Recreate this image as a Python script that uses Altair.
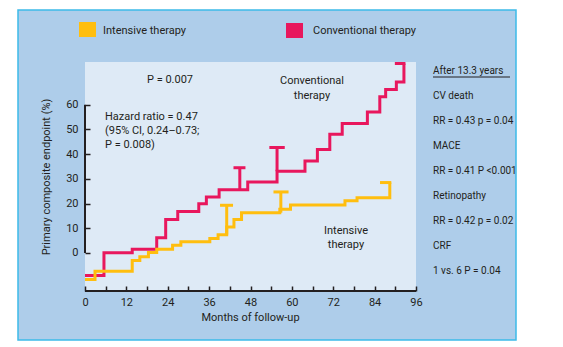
import altair as alt
import pandas as pd

# ---------------- data ----------------
series_names = ["Intensive therapy", "Conventional therapy"]

intensive_months = [0, 2.9, 13.7, 15.9, 18.4, 20.8, 25.4, 27.8, 36.2, 38.6, 41.1, 43.2, 45.4, 56.5, 59.6, 75.4, 78.9, 88.4]
intensive_values = [-10.7, -7.4, -3.1, -1.5, 0.2, 1.5, 3.1, 4.5, 5.9, 7.4, 10.5, 13.5, 16.3, 17.7, 19.4, 21.1, 22.3, 28.5]

conventional_months = [0, 5.5, 13.7, 20.8, 23.4, 26.9, 33.0, 35.2, 38.9, 47.2, 55.7, 63.8, 67.4, 71.0, 74.6, 81.9, 85.5, 87.2, 90.3, 92.5]
conventional_values = [-9.1, 0.1, 1.5, 6.2, 13.5, 16.8, 19.9, 22.7, 25.6, 28.7, 33.1, 37.2, 41.9, 48.1, 52.4, 57.1, 63.2, 66.2, 69.2, 76.7]

intensive_bar_months = [41.1, 56.8]
intensive_bar_low = [7.4, 16.3]
intensive_bar_high = [19.3, 24.7]
intensive_cap_start = [39.6, 55.1, 86.0]
intensive_cap_end = [42.5, 58.6, 88.4]
intensive_cap_values = [19.3, 24.7, 28.5]

conventional_bar_months = [44.9, 55.7]
conventional_bar_low = [25.6, 33.1]
conventional_bar_high = [34.5, 42.7]
conventional_cap_start = [43.5, 53.9, 90.3]
conventional_cap_end = [46.1, 57.5, 92.5]
conventional_cap_values = [34.5, 42.7, 76.7]

x_tick_values = list(range(0, 97, 6))
y_tick_values = [0, 10, 20, 30, 40, 50, 60]
x_domain = [0, 96]
y_domain = [-15.4, 77.3]
y_axis_span = [0, 60]

x_title = "Months of follow-up"
y_title = "Primary composite endpoint (%)"
p_text = "P = 0.007"
hazard_lines = ["Hazard ratio = 0.47", "(95% CI, 0.24\u20130.73;", "P = 0.008)"]
conv_label_lines = ["Conventional", "therapy"]
int_label_lines = ["Intensive", "therapy"]
side_lines = ["After 13.3 years", "CV death", "RR = 0.43 p = 0.04", "MACE",
              "RR = 0.41 P <0.001", "Retinopathy", "RR = 0.42 p = 0.02", "CRF",
              "1 vs. 6 P = 0.04"]

# ---------------- styles ----------------
FONT = "Roboto"
INK = "#231f20"
BLUE = "#aecdea"
BORDER = "#3dbbe9"
LIGHT = "#deeaf6"
ORANGE = "#ffbe0f"
CRIMSON = "#e8175d"
W, H = 331, 229
FS = 11

X_SCALE = alt.Scale(domain=x_domain, nice=False, zero=False)
Y_SCALE = alt.Scale(domain=y_domain, nice=False, zero=False)
X_AXIS = alt.Axis(values=x_tick_values, labelExpr="datum.value % 12 === 0 ? datum.label : ''",
                  domain=False, grid=False, tickSize=5, tickWidth=1.5, tickColor=INK,
                  offset=-5, labelPadding=5, labelFont=FONT, labelFontSize=FS, labelColor=INK,
                  labelFlush=False, labelOverlap=False, title=None, zindex=1)
Y_AXIS = alt.Axis(values=y_tick_values, domain=False, grid=False, tickSize=5, tickWidth=1.5,
                  tickColor=INK, offset=-5, labelPadding=7, labelFont=FONT, labelFontSize=FS,
                  labelColor=INK, labelFlush=False, labelOverlap=False, title=None, zindex=1)


def X(field):
    return alt.X(field, type="quantitative", scale=X_SCALE, axis=X_AXIS)


def Y(field):
    return alt.Y(field, type="quantitative", scale=Y_SCALE, axis=Y_AXIS)


one = pd.DataFrame({"k": [0]})


def text(t, x, y, align="left", size=FS, angle=0):
    return alt.Chart(one).mark_text(text=t, align=align, baseline="middle", font=FONT,
                                    fontSize=size, angle=angle, color=INK).encode(
        x=alt.value(x), y=alt.value(y))


def box(x1, x2, y1, y2, **kw):
    return alt.Chart(one).mark_rect(**kw).encode(
        x=alt.value(x1), x2=alt.value(x2), y=alt.value(y1), y2=alt.value(y2))


def curve(months, values, color):
    df = pd.DataFrame({"month": months, "value": values, "idx": range(len(months))})
    return alt.Chart(df).mark_line(interpolate="step-after", strokeWidth=3, color=color,
                                   strokeJoin="miter").encode(
        x=X("month"), y=Y("value"), order="idx:Q")


def bars(months, low, high, color):
    df = pd.DataFrame({"month": months, "value": low, "value2": high})
    return alt.Chart(df).mark_rule(strokeWidth=3, color=color).encode(
        x=X("month"), y=Y("value"), y2="value2")


def caps(start, end, values, color):
    df = pd.DataFrame({"month": start, "month2": end, "value": values})
    return alt.Chart(df).mark_rule(strokeWidth=3, color=color, strokeCap="square").encode(
        x=X("month"), x2="month2", y=Y("value"))


axis_lines_x = pd.DataFrame({"month": [x_domain[0]], "month2": [x_domain[1]], "value": [y_domain[0]]})
axis_lines_y = pd.DataFrame({"month": [x_domain[0]], "value": [y_axis_span[0]], "value2": [y_axis_span[1]]})

layers = [
    box(18 - 85, 516 - 85, 10 - 62, 340 - 62, fill=BLUE, stroke=BORDER, strokeWidth=1.5),
    box(0, W, 0, H, fill=LIGHT),
    alt.Chart(axis_lines_x).mark_rule(color=INK, strokeWidth=2).encode(x=X("month"), x2="month2", y=Y("value")),
    alt.Chart(axis_lines_y).mark_rule(color=INK, strokeWidth=2).encode(x=X("month"), y=Y("value"), y2="value2"),
    curve(conventional_months, conventional_values, CRIMSON),
    bars(conventional_bar_months, conventional_bar_low, conventional_bar_high, CRIMSON),
    caps(conventional_cap_start, conventional_cap_end, conventional_cap_values, CRIMSON),
    curve(intensive_months, intensive_values, ORANGE),
    bars(intensive_bar_months, intensive_bar_low, intensive_bar_high, ORANGE),
    caps(intensive_cap_start, intensive_cap_end, intensive_cap_values, ORANGE),
    # legend
    box(-6, 11, -40, -25, fill=ORANGE),
    text(series_names[0], 18, -31),
    box(201, 218, -39, -24, fill=CRIMSON),
    text(series_names[1], 228, -31),
    # annotations
    text(p_text, 85, 18, align="center"),
    text(y_title, -38, 115, align="center", angle=270),
    text(x_title, 165.5, 256, align="center"),
]
for i, line in enumerate(hazard_lines):
    layers.append(text(line, 20, 55 + 14 * i))
for i, line in enumerate(conv_label_lines):
    layers.append(text(line, 227, 19 + 15 * i, align="center"))
for i, line in enumerate(int_label_lines):
    layers.append(text(line, 261, 169 + 14 * i, align="center"))
for i, line in enumerate(side_lines):
    layers.append(text(line, 348, 9 + 25 * i, size=10))
layers.append(alt.Chart(one).mark_rule(color=INK, strokeWidth=1).encode(
    x=alt.value(348), x2=alt.value(425), y=alt.value(15)))

chart = alt.layer(*layers).properties(
    width=W, height=H,
    padding={"left": 85, "top": 62, "right": 147, "bottom": 56},
    autosize=alt.AutoSizeParams(type="none"),
    background="white",
).configure_view(stroke=None)

chart.save("out.html", embed_options={"renderer": "svg", "actions": False})
